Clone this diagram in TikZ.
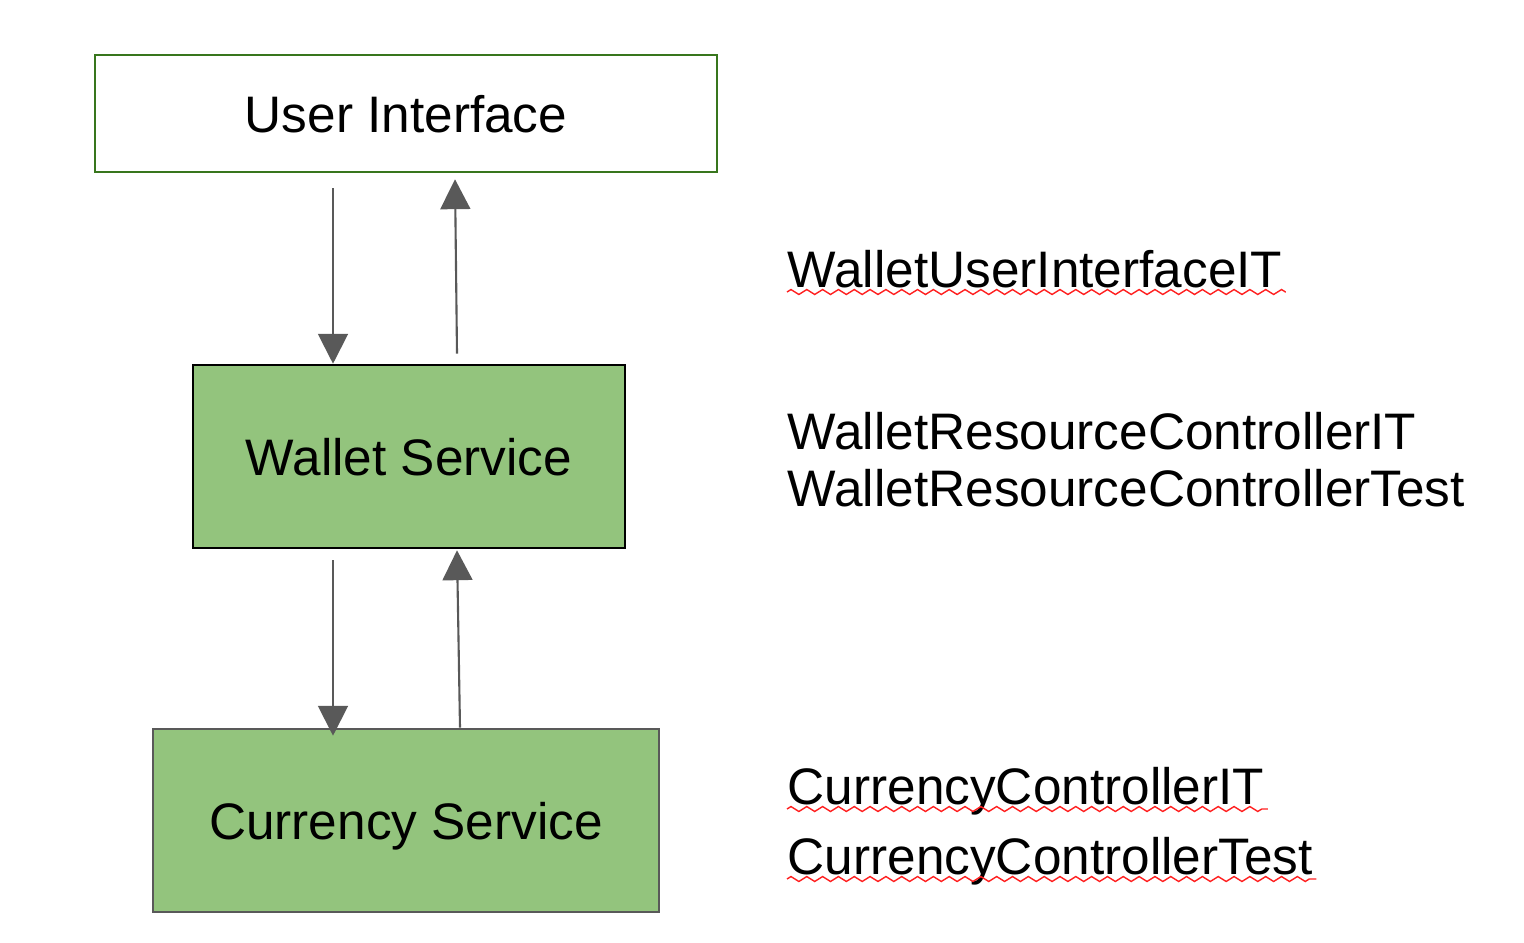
\documentclass[tikz,border=0pt]{standalone}
\usepackage{fontspec}
\setmainfont{Liberation Sans}
\usetikzlibrary{arrows.meta,decorations.pathmorphing}

\begin{document}
\begin{tikzpicture}[
  x=0.01cm, y=-0.01cm,
  font=\fontsize{14.6}{17}\selectfont,
  layer/.style={draw, line width=0.7pt, inner sep=0pt, text depth=0pt},
  flow/.style={draw=Arw, line width=0.6pt, -{Triangle[length=8.5pt,width=8.5pt]}},
  testname/.style={anchor=base west, inner sep=0pt},
  squiggle/.style={draw=Spell, line width=0.4pt,
    decorate, decoration={zigzag, segment length=4.5pt, amplitude=0.7pt}},
]
\definecolor{Leaf}{HTML}{93C47D}
\definecolor{Edge}{HTML}{38761D}
\definecolor{Arw}{HTML}{595959}
\definecolor{Spell}{HTML}{FF2020}

\useasboundingbox (0,0) rectangle (1524,942);

% ---- layers ----
\node[layer, draw=Edge, fill=white, minimum width=6.22cm, minimum height=1.17cm]
  (ui) at (406,113.5) {User Interface};
\node[layer, draw=black, fill=Leaf, minimum width=4.32cm, minimum height=1.83cm]
  (ws) at (409,456.5) {Wallet Service};
\node[layer, draw=Arw, fill=Leaf, minimum width=5.06cm, minimum height=1.83cm]
  (cs) at (406,820.5) {Currency Service};

% ---- calls between layers ----
\draw[flow] ([shift={(-73,15)}]ui.south) -- ([shift={(-76,0)}]ws.north);
\draw[flow] ([shift={(48,-10)}]ws.north) -- ([shift={(49,6)}]ui.south);
\draw[flow] ([shift={(-76,11)}]ws.south) -- ([shift={(-73,8)}]cs.north);
\draw[flow] ([shift={(54,0)}]cs.north) -- ([shift={(48,1)}]ws.south);

% ---- tests per layer ----
\node[testname] (uiit) at (787,287) {WalletUserInterfaceIT};
\node[testname] (wsit) at (787,449) {WalletResourceControllerIT};
\node[testname] (wstest) at (787,506) {WalletResourceControllerTest};
\node[testname] (csit) at (787,804) {CurrencyControllerIT};
\node[testname] (cstest) at (787,874) {CurrencyControllerTest};

\foreach \t in {uiit,csit,cstest} {
  \draw[squiggle] ([shift={(0,5)}]\t.base west) -- ([shift={(3,5)}]\t.base east);
}
\end{tikzpicture}
\end{document}
